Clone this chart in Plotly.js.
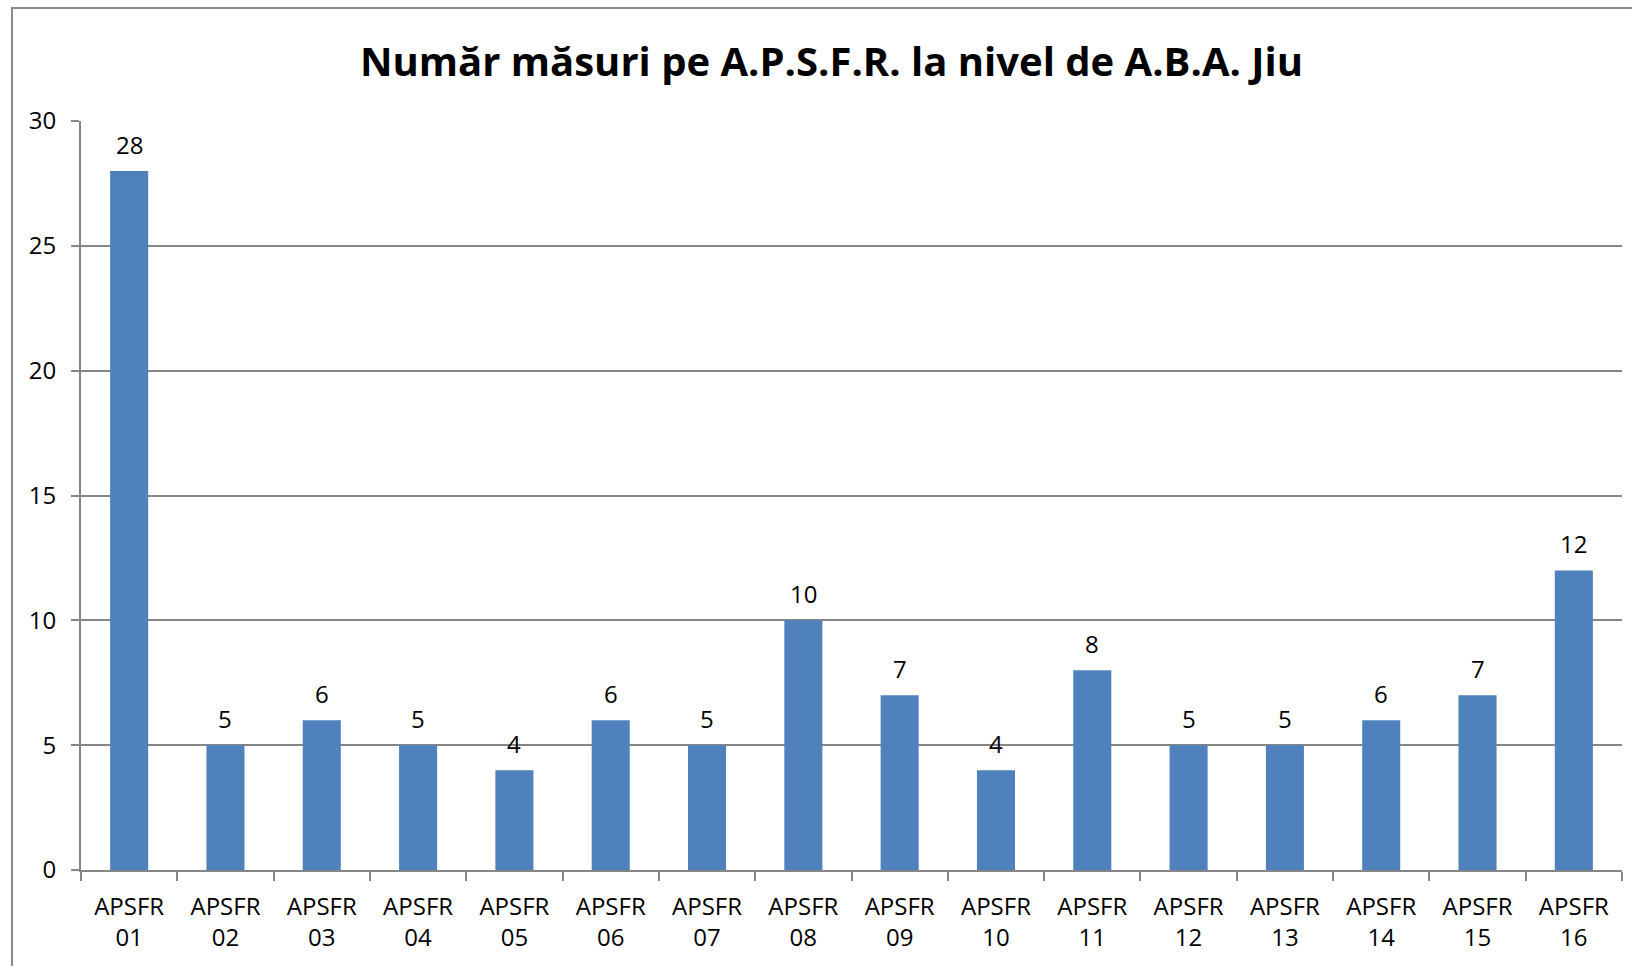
<!DOCTYPE html>
<html>
<head>
<meta charset="utf-8">
<script src="https://cdn.plot.ly/plotly-3.0.1.min.js"></script>
<style>html,body{margin:0;padding:0;background:#fff;}#chart{width:1632px;height:966px;}</style>
</head>
<body>
<div id="chart"></div>
<script>
const chartTitle = "Număr măsuri pe A.P.S.F.R. la nivel de A.B.A. Jiu";
const categories = ["APSFR<br>01","APSFR<br>02","APSFR<br>03","APSFR<br>04","APSFR<br>05","APSFR<br>06","APSFR<br>07","APSFR<br>08","APSFR<br>09","APSFR<br>10","APSFR<br>11","APSFR<br>12","APSFR<br>13","APSFR<br>14","APSFR<br>15","APSFR<br>16"];
const values = [28, 5, 6, 5, 4, 6, 5, 10, 7, 4, 8, 5, 5, 6, 7, 12];
const yTicks = [0, 5, 10, 15, 20, 25, 30];

const gridColor = "#868686";
const font = {family: "Open Sans, sans-serif", size: 24, color: "#000"};

const trace = {
  type: "bar",
  x: categories,
  y: values,
  marker: {color: "#4F81BD", line: {width: 0}},
  hoverinfo: "x+y"
};

const annotations = categories.map((c, i) => ({
  x: c, y: values[i], xref: "x", yref: "y",
  text: String(values[i]), showarrow: false,
  yanchor: "bottom", yshift: 8,
  font: font
}));

const layout = {
  width: 1632, height: 966,
  margin: {l: 81, r: 10, t: 121, b: 96},
  paper_bgcolor: "#fff", plot_bgcolor: "#fff",
  font: font,
  showlegend: false,
  bargap: 0.605,
  title: {
    text: chartTitle,
    font: {family: "Open Sans, sans-serif", size: 40, color: "#000", weight: "bold"},
    x: 0.5095, xanchor: "center", y: 0.936, yanchor: "middle"
  },
  xaxis: {
    type: "category",
    showline: true, linecolor: gridColor, linewidth: 2,
    ticks: "outside", tickson: "boundaries", ticklen: 9, tickcolor: gridColor, tickwidth: 2,
    showgrid: false, zeroline: false,
    tickfont: font, ticklabelstandoff: 14,
    fixedrange: true
  },
  yaxis: {
    range: [0, 30],
    tickvals: yTicks,
    showline: true, linecolor: gridColor, linewidth: 2,
    ticks: "outside", ticklen: 8, tickcolor: gridColor, tickwidth: 2,
    showgrid: true, gridcolor: gridColor, gridwidth: 2,
    zeroline: false,
    tickfont: font, ticklabelstandoff: 10,
    fixedrange: true
  },
  annotations: annotations,
  shapes: [{
    type: "rect", xref: "paper", yref: "paper",
    x0: -0.0448, x1: 1.02, y0: -0.14, y1: 1.1508,
    line: {color: "#898989", width: 2}, fillcolor: "rgba(0,0,0,0)", layer: "below"
  }]
};

Plotly.newPlot("chart", [trace], layout, {displayModeBar: false, staticPlot: true});
</script>
</body>
</html>
